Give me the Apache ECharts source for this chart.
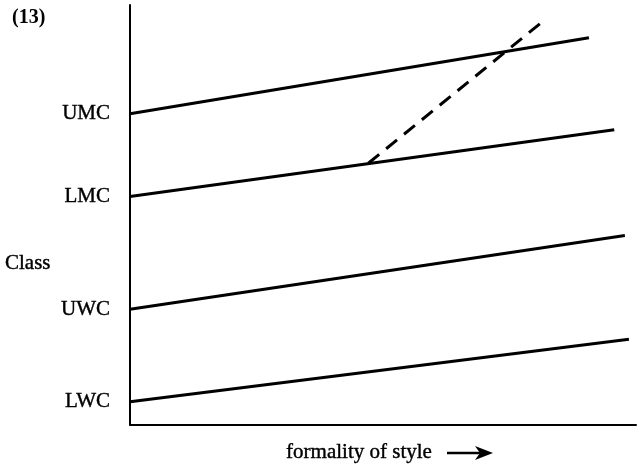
<!DOCTYPE html>
<html>
<head>
<meta charset="utf-8">
<script src="https://cdn.jsdelivr.net/npm/echarts@6/dist/echarts.min.js"></script>
<style>html,body{margin:0;padding:0;background:#fff;}#c{width:637px;height:468px;}</style>
</head>
<body>
<div id="c"></div>
<script>
const classNames = ['LWC', 'UWC', 'LMC', 'UMC'];
const classLevels = [5.5, 27.5, 54.4, 74.1];
const lineEndX = [98.6, 97.8, 95.7, 90.7];
const lineEndY = [20.4, 45.1, 70.3, 92.2];
const dashedX = [47.1, 81.7];
const dashedY = [62.3, 96.2];
const figureLabel = '(13)';
const yName = 'Class';
const xName = 'formality of style';

const FONT = '"Liberation Serif", "Times New Roman", serif';
const thick = { textBorderColor: '#000', textBorderWidth: 0.4 };
const series = classNames.map((n, i) => ({
  name: n,
  type: 'line',
  data: [[0, classLevels[i]], [lineEndX[i], lineEndY[i]]],
  symbol: 'none',
  lineStyle: { color: '#000', width: 3 },
  silent: true
}));
series.push({
  name: 'shift',
  type: 'line',
  data: [[dashedX[0], dashedY[0]], [dashedX[1], dashedY[1]]],
  symbol: 'none',
  lineStyle: { color: '#000', width: 3, type: [14, 9] },
  silent: true
});

const chart = echarts.init(document.getElementById('c'), null, { renderer: 'canvas' });
chart.setOption({
  animation: false,
  backgroundColor: '#fff',
  title: [
    {
      text: figureLabel, left: 7, top: 3,
      textStyle: { fontFamily: FONT, fontSize: 20, fontWeight: 'bold', color: '#000' }
    },
    {
      text: yName, left: 0, top: 248,
      textStyle: Object.assign({ fontFamily: FONT, fontSize: 21, fontWeight: 'normal', color: '#000' }, thick)
    }
  ],
  grid: { left: 130, right: 1, top: 5, bottom: 42 },
  xAxis: {
    type: 'value', min: 0, max: 100,
    axisLine: { lineStyle: { color: '#000', width: 2 } },
    axisTick: { show: false }, axisLabel: { show: false }, splitLine: { show: false },
    name: xName, nameLocation: 'middle', nameGap: 17,
    nameTextStyle: Object.assign({ fontFamily: FONT, fontSize: 21, color: '#000', padding: [0, 48, 0, 0] }, thick)
  },
  yAxis: {
    type: 'value', min: 0, max: 100,
    axisLine: { show: true, lineStyle: { color: '#000', width: 2 } },
    axisTick: { show: false }, splitLine: { show: false },
    axisLabel: Object.assign({
      customValues: classLevels,
      formatter: v => { const i = classLevels.indexOf(v); return i >= 0 ? classNames[i] : ''; },
      margin: 20, fontFamily: FONT, fontSize: 21, color: '#000'
    }, thick)
  },
  graphic: [
    { type: 'line', shape: { x1: 447, y1: 453, x2: 480, y2: 453 }, style: { stroke: '#000', lineWidth: 2.5 } },
    { type: 'polygon', shape: { points: [[475, 446], [493, 453], [475, 460], [480, 453]] }, style: { fill: '#000' } }
  ],
  series
});
</script>
</body>
</html>
